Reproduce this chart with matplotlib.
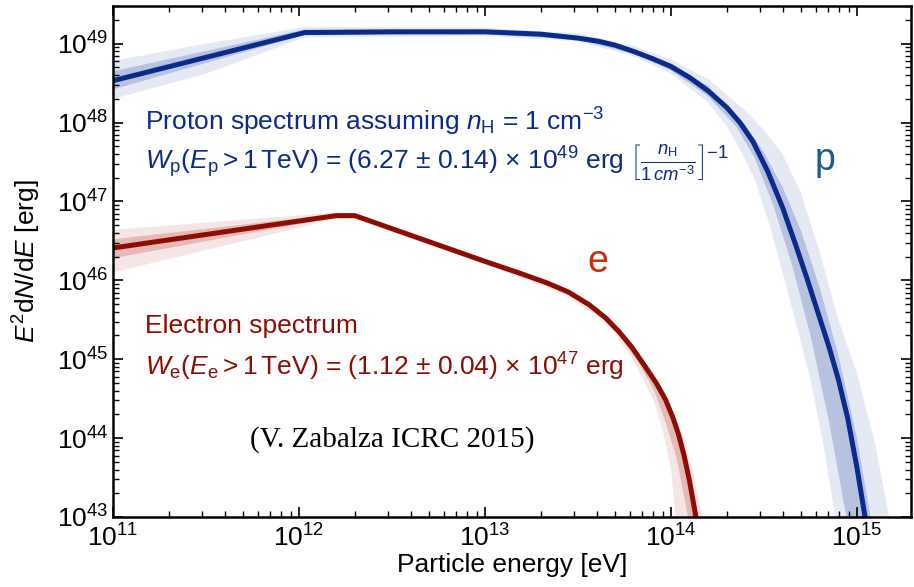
import matplotlib
matplotlib.use("Agg")
import matplotlib.pyplot as plt
import numpy as np

plt.rcParams['font.family'] = ['Liberation Sans', 'DejaVu Sans']
plt.rcParams['mathtext.fontset'] = 'custom'
plt.rcParams['mathtext.rm'] = 'Liberation Sans'
plt.rcParams['mathtext.it'] = 'Liberation Sans:italic'
plt.rcParams['mathtext.bf'] = 'Liberation Sans:bold'

# spectra, log10(E/eV) and log10(E^2 dN/dE / erg)
prot_logE = [11.0, 12.03, 12.5, 13.0, 13.3, 13.5, 13.61, 13.7, 13.8, 13.9, 14.0, 14.1, 14.2,
             14.3, 14.37, 14.44, 14.52, 14.6, 14.67, 14.73, 14.79, 14.85, 14.9, 14.95, 15.0, 15.05]
prot_logY = [48.53, 49.14, 49.15, 49.15, 49.12, 49.07, 49.03, 48.98, 48.90, 48.81, 48.71, 48.57, 48.40,
             48.19, 48.00, 47.76, 47.38, 46.92, 46.45, 46.03, 45.59, 45.15, 44.74, 44.25, 43.62, 42.9]

elec_logE = [11.0, 12.20, 12.30, 13.0, 13.2, 13.33, 13.45, 13.56, 13.65, 13.72, 13.79, 13.86,
             13.92, 13.97, 14.01, 14.04, 14.07, 14.10, 14.13, 14.16]
elec_logY = [46.41, 46.82, 46.82, 46.24, 46.08, 45.97, 45.85, 45.69, 45.52, 45.35, 45.15, 44.91,
             44.70, 44.49, 44.26, 44.05, 43.78, 43.45, 43.05, 42.6]

# spread of the posterior samples (outer = faintest, inner = dense core)
prot_out_up_E = [11.0, 11.5, 12.03, 13.0, 13.5, 13.8, 14.0, 14.2, 14.4, 14.5, 14.6, 14.7, 14.8,
                 14.84, 14.9, 15.0, 15.1, 15.18]
prot_out_up_Y = [48.78, 49.0, 49.21, 49.20, 49.13, 48.97, 48.80, 48.55, 48.15, 47.90, 47.6, 47.1, 46.35,
                 46.01, 45.5, 44.82, 43.9, 42.9]
prot_out_lo_E = [11.0, 11.5, 12.03, 13.0, 13.5, 13.8, 14.0, 14.2, 14.3, 14.38, 14.45, 14.53, 14.61,
                 14.68, 14.75, 14.82, 14.89]
prot_out_lo_Y = [48.30, 48.62, 49.08, 49.10, 49.03, 48.84, 48.62, 48.25, 47.95, 47.62, 47.28, 46.7, 46.01,
                 45.38, 44.74, 43.9, 42.9]
prot_in_up_E = [11.0, 12.03, 13.0, 13.5, 13.8, 14.0, 14.2, 14.4, 14.5, 14.6, 14.7, 14.8, 14.9, 15.0, 15.08]
prot_in_up_Y = [48.65, 49.18, 49.17, 49.10, 48.93, 48.75, 48.46, 47.97, 47.62, 47.18, 46.62, 45.9, 45.05,
                44.0, 42.9]
prot_in_lo_E = [11.0, 12.03, 13.0, 13.5, 13.8, 14.0, 14.2, 14.35, 14.45, 14.55, 14.65, 14.75, 14.85, 14.95]
prot_in_lo_Y = [48.42, 49.11, 49.12, 49.05, 48.87, 48.66, 48.33, 47.95, 47.55, 46.95, 46.2, 45.3, 44.2, 42.9]

elec_out_up_E = [11.0, 12.2, 12.3, 13.0, 13.4, 13.6, 13.75, 13.85, 13.93, 14.0, 14.06, 14.12, 14.18]
elec_out_up_Y = [46.64, 46.86, 46.85, 46.27, 45.93, 45.65, 45.32, 45.0, 44.7, 44.4, 44.05, 43.55, 42.9]
elec_out_lo_E = [11.0, 12.2, 12.3, 13.0, 13.4, 13.6, 13.7, 13.78, 13.85, 13.91, 13.96, 14.0, 14.03]
elec_out_lo_Y = [46.10, 46.78, 46.78, 46.20, 45.85, 45.55, 45.32, 45.05, 44.75, 44.45, 44.05, 43.6, 42.9]
elec_in_up_E = [11.0, 12.2, 12.3, 13.0, 13.4, 13.6, 13.75, 13.85, 13.95, 14.02, 14.08, 14.16]
elec_in_up_Y = [46.52, 46.84, 46.84, 46.26, 45.91, 45.66, 45.29, 44.98, 44.6, 44.2, 43.75, 42.9]
elec_in_lo_E = [11.0, 12.2, 12.3, 13.0, 13.4, 13.6, 13.72, 13.82, 13.91, 13.97, 14.03, 14.1]
elec_in_lo_Y = [46.28, 46.80, 46.80, 46.22, 45.88, 45.6, 45.3, 44.98, 44.6, 44.2, 43.75, 42.9]

c_prot = '#0a2a8c'
c_prot_band = '#2f50aa'
c_elec = '#8e0d02'
c_elec_band = '#b4392c'


def band(ax, upE, upY, loE, loY, color, alpha):
    xs = 10.0 ** np.concatenate([upE, loE[::-1]])
    ys = 10.0 ** np.concatenate([upY, loY[::-1]])
    ax.fill(xs, ys, color=color, alpha=alpha, lw=0)


fig = plt.figure(figsize=(9.14, 5.87), dpi=100)
ax = fig.add_axes([113 / 914, 1 - 517 / 587, (911 - 113) / 914, (517 - 6) / 587])

band(ax, prot_out_up_E, prot_out_up_Y, prot_out_lo_E, prot_out_lo_Y, c_prot_band, 0.12)
band(ax, prot_in_up_E, prot_in_up_Y, prot_in_lo_E, prot_in_lo_Y, c_prot_band, 0.25)
band(ax, elec_out_up_E, elec_out_up_Y, elec_out_lo_E, elec_out_lo_Y, c_elec_band, 0.12)
band(ax, elec_in_up_E, elec_in_up_Y, elec_in_lo_E, elec_in_lo_Y, c_elec_band, 0.25)

ax.plot(10.0 ** np.array(prot_logE), 10.0 ** np.array(prot_logY), color=c_prot, lw=3.6,
        solid_joinstyle='round')
ax.plot(10.0 ** np.array(elec_logE), 10.0 ** np.array(elec_logY), color=c_elec, lw=3.6,
        solid_joinstyle='round')

ax.set_xscale('log')
ax.set_yscale('log')
ax.set_xlim(1e11, 1.95e15)
ax.set_ylim(1e43, 3e49)

ax.tick_params(which='both', direction='in', top=True, right=True, labelsize=19)
ax.tick_params(which='major', length=7, width=1.2)
ax.tick_params(which='minor', length=4, width=1.0)
ax.tick_params(axis='x', which='major', pad=5)
for s in ax.spines.values():
    s.set_linewidth(1.8)

ax.set_xlabel('Particle energy [eV]', fontsize=19, labelpad=1)
ax.set_ylabel(r'$E^2\mathrm{d}N/\mathrm{d}E$ [erg]', fontsize=19, labelpad=10)


def fp(x, y):
    return x / 914, 1 - y / 587


fig.text(*fp(145, 122), r'Proton spectrum assuming $n_\mathrm{H}$ = 1 cm$^{-3}$',
         color=c_prot, fontsize=19, va='center')
fig.text(*fp(145, 163),
         r'$W_\mathrm{p}(E_\mathrm{p} > 1\,\mathrm{TeV})$ = (6.27 $\pm$ 0.14) $\times$ 10$^{49}$ erg '
         r'$\left[\frac{n_\mathrm{H}}{1\,cm^{-3}}\right]^{-1}$',
         color=c_prot, fontsize=19, va='center')
fig.text(*fp(145, 326), 'Electron spectrum', color=c_elec, fontsize=19, va='center')
fig.text(*fp(145, 367),
         r'$W_\mathrm{e}(E_\mathrm{e} > 1\,\mathrm{TeV})$ = (1.12 $\pm$ 0.04) $\times$ 10$^{47}$ erg',
         color=c_elec, fontsize=19, va='center')
fig.text(*fp(250, 440), '(V. Zabalza ICRC 2015)', family='Liberation Serif',
         fontsize=21, va='center')
fig.text(*fp(825, 160), 'p', color='#1d5a8c', fontsize=27, va='center', ha='center')
fig.text(*fp(598, 262), 'e', color='#cc2a0c', fontsize=27, va='center', ha='center')

fig.savefig('out.png', dpi=100)
plt.close(fig)
